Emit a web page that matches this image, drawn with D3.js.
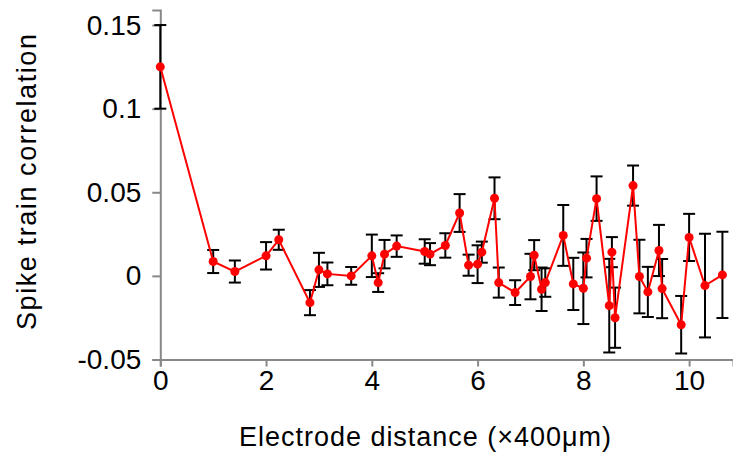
<html>
    <head>
        <style>
            body { margin: 0; background: white; }
            text { font-family: "Liberation Sans", Arial, sans-serif; }
        </style>
    </head>
    <body>
        <svg id="chart" width="733" height="455"></svg>

        <script src="https://d3js.org/d3.v7.min.js"></script>
        <script>
            // electrode distance (x400um)
            var distance = [0, 1, 1.41, 2, 2.24, 2.83, 3, 3.16, 3.61, 4, 4.12, 4.24, 4.47, 5, 5.10, 5.39,
                5.66, 5.83, 6, 6.08, 6.32, 6.40, 6.71, 7, 7.07, 7.21, 7.28, 7.62, 7.81, 8, 8.06, 8.25,
                8.49, 8.54, 8.60, 8.94, 9.06, 9.22, 9.43, 9.49, 9.85, 10, 10.30, 10.63];

            // mean spike train correlation
            var correlation = [0.125, 0.0086, 0.0026, 0.012, 0.0216, -0.016, 0.0036, 0.0012, 0.0, 0.012,
                -0.004, 0.013, 0.0178, 0.0146, 0.013, 0.0182, 0.0376, 0.0064, 0.007, 0.0142, 0.0464,
                -0.004, -0.010, -0.0004, 0.0124, -0.008, -0.004, 0.0242, -0.0048, -0.0074, 0.0106,
                0.0462, -0.0178, 0.0142, -0.025, 0.054, -0.0004, -0.0096, 0.0152, -0.0076, -0.0292,
                0.023, -0.0058, 0.0006];

            // error bar half length
            var error = [0.025, 0.0069, 0.0066, 0.0082, 0.006, 0.0075, 0.0102, 0.0068, 0.0053, 0.0127,
                0.0056, 0.0085, 0.0064, 0.0073, 0.0066, 0.0073, 0.0113, 0.0063, 0.0113, 0.0063, 0.0125,
                0.009, 0.0074, 0.0136, 0.009, 0.013, 0.0085, 0.0182, 0.0156, 0.0214, 0.0115,
                0.0133, 0.028, 0.009, 0.018, 0.012, 0.022, 0.015, 0.0153, 0.0177, 0.0172,
                0.0141, 0.031, 0.0258];

            var xTicks = [0, 2, 4, 6, 8, 10];
            var yTicks = [-0.05, 0, 0.05, 0.1, 0.15];
            var yTickLabels = ["-0.05", "0", "0.05", "0.1", "0.15"];

            var base = d3.select("#chart");

            var x = d3.scaleLinear().domain([0, 10.83]).range([160.3, 733]);
            var y = d3.scaleLinear().domain([-0.05, 0.159]).range([359.5, 10]);

            var points = [];
            for(i = 0; i < distance.length; i++)
            {
                points.push({x: distance[i], v: correlation[i], e: error[i]});
            }

            // axes
            var xAxis = base.append("g")
                .attr("transform", "translate(0,359.5)")
                .call(d3.axisBottom(x).tickValues(xTicks).tickSize(7).tickFormat(d3.format("d")));
            var yAxis = base.append("g")
                .attr("transform", "translate(160.3,0)")
                .call(d3.axisLeft(y).tickValues(yTicks).tickSize(8)
                    .tickFormat(function(d, i){ return yTickLabels[i]; }));

            [xAxis, yAxis].forEach(function(a){
                a.select(".domain").attr("stroke", "#888").attr("stroke-width", 2);
                a.selectAll(".tick line").attr("stroke", "#888").attr("stroke-width", 2);
                a.selectAll(".tick text")
                    .attr("fill", "black")
                    .style("font-size", "28px")
                    .style("font-family", "'Liberation Sans', Arial, sans-serif");
            });
            xAxis.selectAll(".tick text").attr("y", 11);
            yAxis.selectAll(".tick text").attr("x", -19);

            // error bars
            var bars = base.append("g").attr("stroke", "black").attr("stroke-width", 2);
            bars.selectAll(".stem").data(points).enter().append("line")
                .attr("x1", function(d){ return x(d.x); })
                .attr("x2", function(d){ return x(d.x); })
                .attr("y1", function(d){ return y(d.v + d.e); })
                .attr("y2", function(d){ return y(d.v - d.e); });
            bars.selectAll(".capTop").data(points).enter().append("line")
                .attr("x1", function(d){ return x(d.x) - 6; })
                .attr("x2", function(d){ return x(d.x) + 6; })
                .attr("y1", function(d){ return y(d.v + d.e); })
                .attr("y2", function(d){ return y(d.v + d.e); });
            bars.selectAll(".capBottom").data(points).enter().append("line")
                .attr("x1", function(d){ return x(d.x) - 6; })
                .attr("x2", function(d){ return x(d.x) + 6; })
                .attr("y1", function(d){ return y(d.v - d.e); })
                .attr("y2", function(d){ return y(d.v - d.e); });

            // red line and dots
            var line = d3.line()
                .x(function(d){ return x(d.x); })
                .y(function(d){ return y(d.v); });
            base.append("path")
                .datum(points)
                .attr("d", line)
                .attr("fill", "none")
                .attr("stroke", "red")
                .attr("stroke-width", 2);
            base.append("g").selectAll("circle").data(points).enter().append("circle")
                .attr("cx", function(d){ return x(d.x); })
                .attr("cy", function(d){ return y(d.v); })
                .attr("r", 4.5)
                .attr("fill", "red");

            // axis titles
            base.append("text")
                .attr("x", 425)
                .attr("y", 446)
                .attr("text-anchor", "middle")
                .attr("textLength", 372)
                .style("font-size", "27px")
                .text("Electrode distance (\u00d7400\u03bcm)");
            base.append("text")
                .attr("transform", "translate(36,182) rotate(-90)")
                .attr("text-anchor", "middle")
                .attr("textLength", 296)
                .style("font-size", "27px")
                .text("Spike train correlation");
        </script>
    </body>
</html>
